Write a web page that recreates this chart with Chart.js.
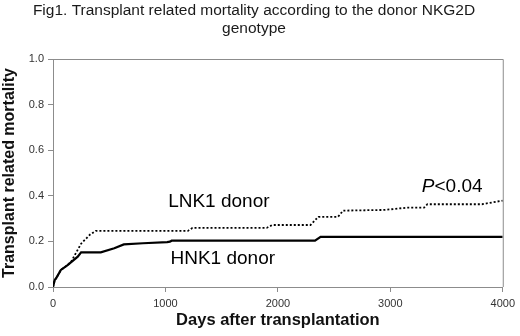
<!DOCTYPE html>
<html lang="en">
<head>
    <meta charset="UTF-8">
    <title>Fig1. Transplant related mortality</title>
    <script src="https://cdn.jsdelivr.net/npm/chart.js"></script>
    <style>
        html, body { margin: 0; padding: 0; background: #fff; }
        .chart-box { width: 520px; height: 336px; }
    </style>
</head>
<body>
    <div class="chart-box">
        <canvas id="trmChart"></canvas>
    </div>

    <script>
        // Cumulative incidence of TRM (days, fraction)
        const hnkDays = [0, 15, 30, 70, 130, 220, 250, 425, 545, 630, 800, 1015, 1040, 1055, 2330, 2380, 4000];
        const hnkTrm  = [0, 0.03, 0.04, 0.075, 0.096, 0.133, 0.152, 0.152, 0.17, 0.187, 0.192, 0.197, 0.199, 0.203, 0.203, 0.22, 0.22];

        const lnkDays = [0, 15, 30, 70, 130, 160, 250, 330, 380, 1200, 1240, 1900, 1950, 2290, 2360, 2535, 2580, 2950, 3150, 3300, 3330, 3815, 4000];
        const lnkTrm  = [0, 0.03, 0.04, 0.075, 0.096, 0.11, 0.19, 0.23, 0.246, 0.246, 0.259, 0.259, 0.272, 0.272, 0.308, 0.308, 0.335, 0.338, 0.348, 0.348, 0.363, 0.363, 0.379];

        const titleLines = ['Fig1. Transplant related mortality according to the donor NKG2D', 'genotype'];

        const toPoints = (xs, ys) => xs.map((x, i) => ({ x: x, y: ys[i] }));

        // title, box edges and in-plot labels
        const extras = {
            id: 'extras',
            afterDraw(chart) {
                const ctx = chart.ctx;
                const a = chart.chartArea;
                const xs = chart.scales.x, ys = chart.scales.y;
                ctx.save();

                // top + right border of the plot area
                ctx.strokeStyle = '#8c8c8c';
                ctx.lineWidth = 1;
                ctx.beginPath();
                ctx.moveTo(a.left, a.top + 0.5);
                ctx.lineTo(a.right + 0.5, a.top + 0.5);
                ctx.lineTo(a.right + 0.5, a.bottom);
                ctx.stroke();

                ctx.fillStyle = '#1a1a1a';
                ctx.textAlign = 'center';
                ctx.textBaseline = 'middle';
                ctx.font = '15.5px "Liberation Sans", Arial, sans-serif';
                ctx.fillText(titleLines[0], 254, 11);
                ctx.fillText(titleLines[1], 254, 29);

                ctx.fillStyle = '#000';
                ctx.font = '19px "Liberation Sans", Arial, sans-serif';
                ctx.fillText('LNK1 donor', xs.getPixelForValue(1475), ys.getPixelForValue(0.373));
                ctx.fillText('HNK1 donor', xs.getPixelForValue(1510), ys.getPixelForValue(0.123));

                // P<0.04 with italic P
                const px = xs.getPixelForValue(3280), py = ys.getPixelForValue(0.439);
                ctx.textAlign = 'left';
                ctx.font = 'italic 19px "Liberation Sans", Arial, sans-serif';
                ctx.fillText('P', px, py);
                const pw = ctx.measureText('P').width;
                ctx.font = '19px "Liberation Sans", Arial, sans-serif';
                ctx.fillText('<0.04', px + pw, py);
                ctx.restore();
            }
        };

        new Chart(document.getElementById('trmChart'), {
            type: 'line',
            data: {
                datasets: [
                    {
                        label: 'LNK1 donor',
                        data: toPoints(lnkDays, lnkTrm),
                        borderColor: '#000',
                        borderWidth: 1.8,
                        borderDash: [2, 2],
                        pointRadius: 0,
                        tension: 0,
                        fill: false
                    },
                    {
                        label: 'HNK1 donor',
                        data: toPoints(hnkDays, hnkTrm),
                        borderColor: '#000',
                        borderWidth: 2.2,
                        pointRadius: 0,
                        tension: 0,
                        fill: false
                    }
                ]
            },
            options: {
                responsive: true,
                maintainAspectRatio: false,
                animation: false,
                layout: { padding: { top: 59, right: 14, left: 0, bottom: 0 } },
                plugins: {
                    legend: { display: false },
                    tooltip: { enabled: false }
                },
                scales: {
                    x: {
                        type: 'linear',
                        min: 0,
                        max: 4000,
                        ticks: { stepSize: 1000, color: '#333', font: { size: 11, family: 'Liberation Sans' }, padding: 5, maxRotation: 0,
                                 callback: (v) => String(v) },
                        grid: { drawOnChartArea: false, tickLength: 5, color: '#8c8c8c' },
                        border: { color: '#8c8c8c' },
                        title: {
                            display: true,
                            text: 'Days after transplantation',
                            color: '#111',
                            font: { size: 16.5, weight: 'bold', family: 'Liberation Sans' },
                            padding: { top: 0, bottom: 6 }
                        },
                        afterFit: (scale) => { scale.height = 49; }
                    },
                    y: {
                        min: 0,
                        max: 1,
                        ticks: { stepSize: 0.2, color: '#333', font: { size: 11, family: 'Liberation Sans' }, padding: 4,
                                 callback: (v) => v.toFixed(1) },
                        grid: { drawOnChartArea: false, tickLength: 5, color: '#8c8c8c' },
                        border: { color: '#8c8c8c' },
                        title: {
                            display: true,
                            text: 'Transplant related mortality',
                            color: '#111',
                            font: { size: 16, weight: 'bold', family: 'Liberation Sans' },
                            padding: { top: 0, bottom: 0 }
                        },
                        afterFit: (scale) => { scale.width = 53; }
                    }
                }
            },
            plugins: [extras]
        });
    </script>
</body>
</html>
